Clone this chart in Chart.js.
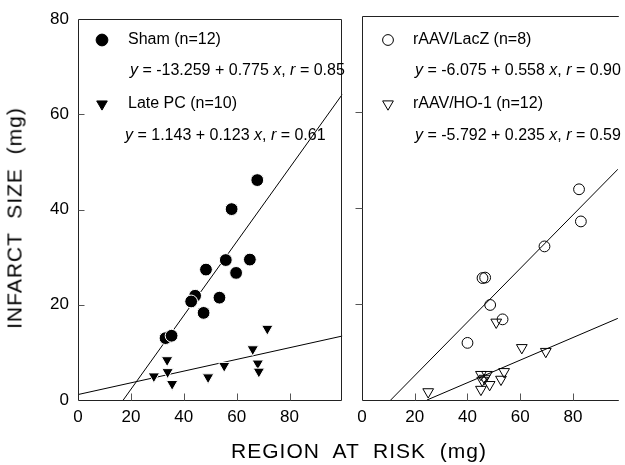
<!DOCTYPE html>
<html><head><meta charset="utf-8">
<script src="https://cdn.jsdelivr.net/npm/chart.js@4/dist/chart.umd.min.js"></script>
<style>
html,body{margin:0;padding:0;background:#fff;}
#wrap{position:relative;width:625px;height:465px;overflow:hidden;font-family:"Liberation Sans",Arial,sans-serif;}
#c1{position:absolute;left:0;top:0;width:350px;height:465px;}
#c2{position:absolute;left:350px;top:0;width:275px;height:465px;}
.title{position:absolute;white-space:pre;font-size:21px;letter-spacing:1px;color:#000;line-height:1;}
</style></head><body>
<div id="wrap">
<canvas id="c1" width="350" height="465"></canvas>
<canvas id="c2" width="275" height="465"></canvas>
<div class="title" id="xt" style="left:359px;top:450px;transform:translate(-50%,-50%)">REGION  AT  RISK  (mg)</div>
<div class="title" id="yt" style="left:14px;top:218px;transform:translate(-50%,-50%) rotate(-90deg)">INFARCT  SIZE  (mg)</div>
</div>
<script>
// ---- data ----
const shamX = [67.8, 58.1, 55.9, 65.0, 48.4, 59.8, 44.3, 42.8, 53.5, 47.5, 33.1, 35.4];
const shamY = [46.2, 40.1, 29.4, 29.5, 27.4, 26.7, 21.9, 20.7, 21.5, 18.3, 13.0, 13.5];
const latePcX = [71.6, 66.1, 33.7, 68.0, 55.3, 33.9, 68.4, 28.7, 49.2, 35.6];
const latePcY = [15.0, 10.7, 8.4, 7.7, 7.2, 5.9, 6.0, 5.0, 4.8, 3.4];
const lacZX = [82.3, 83.0, 69.2, 45.7, 46.7, 48.6, 53.3, 40.0];
const lacZY = [43.9, 37.2, 32.0, 25.4, 25.5, 19.8, 16.8, 11.9];
const ho1X = [50.9, 60.6, 69.7, 25.1, 45.1, 47.4, 45.6, 48.4, 45.1, 53.9, 52.7, 46.5];
const ho1Y = [16.2, 10.9, 10.1, 1.7, 5.3, 5.3, 4.1, 3.2, 2.2, 5.9, 4.3, 4.5];

const seriesNames = ['Sham (n=12)', 'Late PC (n=10)', 'rAAV/LacZ (n=8)', 'rAAV/HO-1 (n=12)'];
const intercepts = ['-13.259', '1.143', '-6.075', '-5.792'];
const slopes = ['0.775', '0.123', '0.558', '0.235'];
const rValues = ['0.85', '0.61', '0.90', '0.59'];

const xTickLabels = [0, 20, 40, 60, 80];
const yTickLabels = [0, 20, 40, 60, 80];
const xTickMarks = [20, 40, 60, 80];
const yTickMarks = [20, 40, 60];

const FONT = '"Liberation Sans", Arial, sans-serif';

function pts(xs, ys) { return xs.map((x, i) => ({x: x, y: ys[i]})); }
function regLine(k, xmin, xmax) {
  const a = parseFloat(intercepts[k]), b = parseFloat(slopes[k]);
  const x0 = Math.max(xmin, -a / b);
  return [{x: x0, y: a + b * x0}, {x: xmax, y: a + b * xmax}];
}

function scatterDs(data, style) {
  return Object.assign({type: 'scatter', data: data, showLine: false, order: 1}, style);
}
function lineDs(data) {
  return {type: 'scatter', data: data, showLine: true, borderColor: '#000', borderWidth: 1,
          pointRadius: 0, pointHoverRadius: 0, order: 2};
}

const filledCircle = {pointStyle: 'circle', pointRadius: 6.4, backgroundColor: '#000', borderColor: '#fff', pointBorderWidth: 1};
const filledTri = {pointStyle: 'triangle', pointRotation: 180, pointRadius: 6.6, backgroundColor: '#000', borderColor: '#fff', pointBorderWidth: 1};
const openCircle = {pointStyle: 'circle', pointRadius: 5.4, backgroundColor: 'rgba(0,0,0,0)', borderColor: '#000', pointBorderWidth: 1};
const openTri = {pointStyle: 'triangle', pointRotation: 180, pointRadius: 6.2, backgroundColor: 'rgba(0,0,0,0)', borderColor: '#000', pointBorderWidth: 1};

function framePlugin(isLeft) {
  return {
    id: 'frame' + (isLeft ? 'L' : 'R'),
    afterDraw(chart) {
      const ctx = chart.ctx, a = chart.chartArea;
      const xs = chart.scales.x, ys = chart.scales.y;
      const L = Math.round(a.left) + 0.5, R = Math.round(a.right) - 0.5;
      const T = Math.round(a.top) + 0.5, B = Math.round(a.bottom) + 0.5;
      ctx.save();
      ctx.strokeStyle = '#222'; ctx.lineWidth = 1;
      ctx.beginPath();
      if (isLeft) {
        ctx.moveTo(L, T); ctx.lineTo(R, T); ctx.lineTo(R, B); ctx.lineTo(L, B); ctx.closePath();
      } else {
        ctx.moveTo(a.right + 1, T); ctx.lineTo(L, T); ctx.lineTo(L, B); ctx.lineTo(a.right + 1, B);
      }
      ctx.stroke();
      ctx.strokeStyle = '#555';
      ctx.beginPath();
      xTickMarks.forEach(v => {
        const px = Math.round(xs.getPixelForValue(v)) + 0.5;
        ctx.moveTo(px, B); ctx.lineTo(px, B - 7);
      });
      yTickMarks.forEach(v => {
        const py = Math.round(ys.getPixelForValue(v)) + 0.5;
        if (isLeft) { ctx.moveTo(L, py); ctx.lineTo(L + 6, py); }
        else { ctx.moveTo(L, py); ctx.lineTo(L - 7, py); }
      });
      ctx.stroke();
      ctx.restore();
    }
  };
}

function drawEq(ctx, x, y, k) {
  const segs = [['y', true], [' = ' + intercepts[k] + ' + ' + slopes[k] + ' ', false], ['x', true],
                [', ', false], ['r', true], [' = ' + rValues[k], false]];
  let cx = x;
  segs.forEach(s => {
    ctx.font = (s[1] ? 'italic ' : '') + '16px ' + FONT;
    ctx.fillText(s[0], cx, y);
    cx += ctx.measureText(s[0]).width;
  });
}

function legendPlugin(items) {
  return {
    id: 'legendText',
    afterDraw(chart) {
      const ctx = chart.ctx;
      ctx.save();
      items.forEach(it => {
        ctx.save();
        ctx.fillStyle = it.style.backgroundColor;
        ctx.strokeStyle = '#000';
        ctx.lineWidth = 1;
        Chart.helpers.drawPoint(ctx, {pointStyle: it.style.pointStyle, rotation: it.style.pointRotation || 0,
          radius: it.style.pointRadius - (it.style.backgroundColor === '#000' ? 0.5 : 0), borderWidth: 1}, it.mx, it.my);
        ctx.restore();
        ctx.fillStyle = '#000';
        ctx.textBaseline = 'middle';
        ctx.textAlign = 'left';
        ctx.font = '16px ' + FONT;
        ctx.fillText(seriesNames[it.k], it.nx, it.my);
        drawEq(ctx, it.ex, it.ey, it.k);
      });
      ctx.restore();
    }
  };
}

function makeOptions(cfg) {
  return {
    responsive: false, animation: false, devicePixelRatio: 1,
    layout: {padding: {top: 16, right: cfg.padRight, left: 0, bottom: 0}},
    plugins: {legend: {display: false}, tooltip: {enabled: false}},
    events: [],
    scales: {
      x: {type: 'linear', min: 0, max: cfg.xMax,
          grid: {display: false, drawTicks: false}, border: {display: false},
          ticks: {stepSize: 20, includeBounds: false, padding: 7, color: '#000', maxRotation: 0,
                  font: {family: FONT, size: 17}},
          afterBuildTicks: s => { s.ticks = s.ticks.filter(t => xTickLabels.includes(t.value)); },
          afterFit: s => { s.height = 65; }},
      y: {type: 'linear', min: 0, max: 80,
          grid: {display: false, drawTicks: false}, border: {display: false},
          ticks: {display: cfg.yLabels, stepSize: 20, padding: 9, color: '#000',
                  font: {family: FONT, size: 17}},
          afterBuildTicks: s => { s.ticks = s.ticks.filter(t => yTickLabels.includes(t.value)); },
          afterFit: s => { s.width = cfg.yWidth; }}
    }
  };
}

new Chart(document.getElementById('c1'), {
  type: 'scatter',
  data: {datasets: [
    scatterDs(pts(shamX, shamY), filledCircle),
    scatterDs(pts(latePcX, latePcY), filledTri),
    lineDs(regLine(0, 0, 100)),
    lineDs(regLine(1, 0, 100))
  ]},
  options: makeOptions({padRight: 3, xMax: 100, yLabels: true, yWidth: 78}),
  plugins: [framePlugin(true), legendPlugin([
    {k: 0, style: filledCircle, mx: 102, my: 40, nx: 128, ex: 130, ey: 71},
    {k: 1, style: filledTri, mx: 102, my: 104, nx: 128, ex: 125, ey: 136}
  ])]
});

new Chart(document.getElementById('c2'), {
  type: 'scatter',
  data: {datasets: [
    scatterDs(pts(lacZX, lacZY), openCircle),
    scatterDs(pts(ho1X, ho1Y), openTri),
    lineDs(regLine(2, 0, 100)),
    lineDs(regLine(3, 0, 100))
  ]},
  options: makeOptions({padRight: 0, xMax: 97, yLabels: false, yWidth: 12}),
  plugins: [framePlugin(false), legendPlugin([
    {k: 2, style: openCircle, mx: 38, my: 40, nx: 63, ex: 65, ey: 71},
    {k: 3, style: openTri, mx: 38, my: 104, nx: 63, ex: 65, ey: 136}
  ])]
});
</script>
</body></html>
